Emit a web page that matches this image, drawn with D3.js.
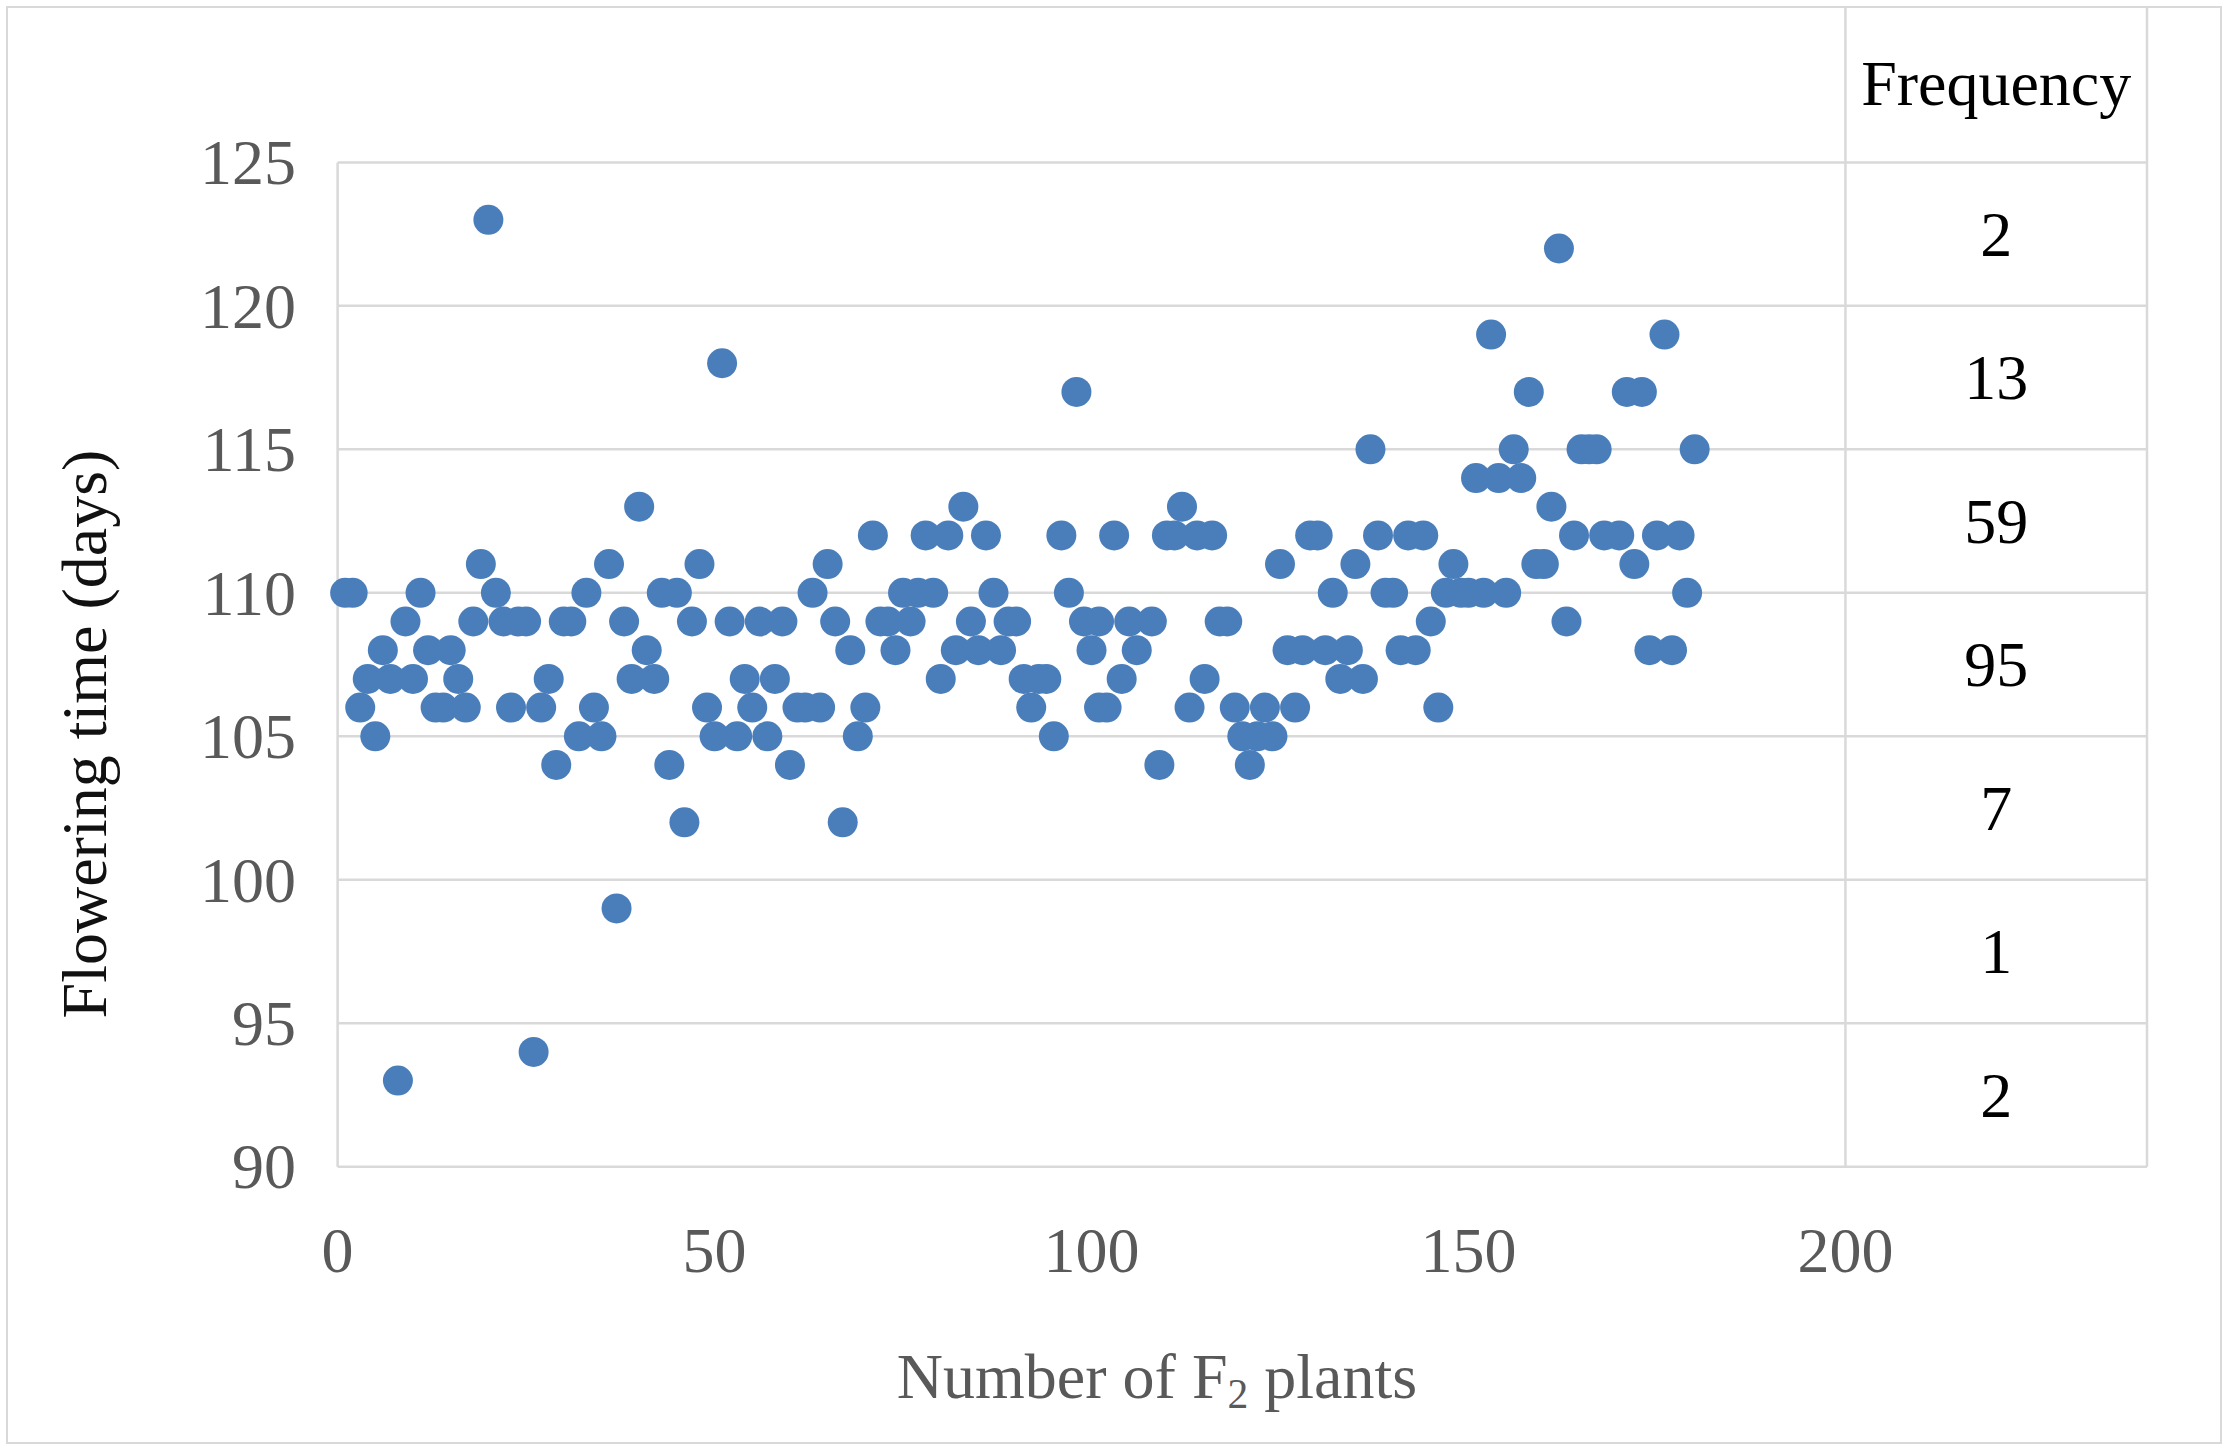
<!DOCTYPE html>
<html>
<head>
<meta charset="utf-8">
<script src="https://cdn.jsdelivr.net/npm/d3@7"></script>
<style>
  html, body { margin: 0; padding: 0; background: #fff; }
  svg { display: block; }
  text { font-family: "Liberation Serif", "Times New Roman", serif; }
</style>
</head>
<body>
<div id="chart"></div>
<script>

// plant number (x) and flowering time in days (y)
var plantNo = [
  1,2,3,4,5,6,7,8,9,10,
  11,12,13,14,15,16,17,18,19,20,
  21,22,23,24,25,26,27,28,29,30,
  31,32,33,34,35,36,37,38,39,40,
  41,42,43,44,45,46,47,48,49,50,
  51,52,53,54,55,56,57,58,59,60,
  61,62,63,64,65,66,67,68,69,70,
  71,72,73,74,75,76,77,78,79,80,
  81,82,83,84,85,86,87,88,89,90,
  91,92,93,94,95,96,97,98,99,100,
  101,101,102,103,104,105,106,
  108,109,110,111,112,113,114,115,116,117,118,
  119,120,121,122,123,124,125,126,127,128,
  129,130,131,132,133,134,135,136,137,138,
  139,140,141,142,143,144,145,146,147,148,
  149,150,151,152,153,154,155,156,157,158,
  159,160,161,162,163,164,165,166,167,168,
  170,171,172,173,174,175,176,177,178,179,180
];

var floweringDays = [
  110,110,106,107,105,108,107,93,109,107,
  110,108,106,106,108,107,106,109,111,123,
  110,109,106,109,109,94,106,107,104,109,
  109,105,110,106,105,111,99,109,107,113,
  108,107,110,104,110,102,109,111,106,105,
  118,109,105,107,106,109,105,107,109,104,
  106,106,110,106,111,109,102,108,105,106,
  112,109,109,108,110,109,110,112,110,107,
  112,108,113,109,108,112,110,108,109,109,
  107,106,107,107,105,112,110,117,109,108,
  109,106,106,112,107,109,108,
  109,104,112,112,113,106,112,107,112,109,109,
  106,105,104,105,106,105,111,108,106,108,
  112,112,108,110,107,108,111,107,115,112,
  110,110,108,112,108,112,109,106,110,111,
  110,110,114,110,119,114,110,115,114,117,
  111,111,113,122,109,112,115,115,115,112,
  112,117,111,117,108,112,119,108,112,110,115
];

// frequency table on the right, one row per 5-day band
var bandLow = [120, 115, 110, 105, 100, 95, 90];
var bandCount = [2, 13, 59, 95, 7, 1, 2];

var xTicks = [0, 50, 100, 150, 200];
var yTicks = [90, 95, 100, 105, 110, 115, 120, 125];

var W = 2228, H = 1450;

var svg = d3.select("#chart")
  .append("svg")
    .attr("width", W)
    .attr("height", H);

// outer frame
svg.append("rect")
    .attr("x", 7).attr("y", 7)
    .attr("width", W - 14).attr("height", H - 14)
    .attr("fill", "#fff")
    .attr("stroke", "#d9d9d9")
    .attr("stroke-width", 2);

var x = d3.scaleLinear()
    .domain([0, 240])
    .range([337.6, 2147]);

var y = d3.scaleLinear()
    .domain([90, 125])
    .range([1166.7, 162.4]);

var gridColor = "#d9d9d9";
var tickColor = "#595959";
var fontSize = 64;

// horizontal grid
svg.append("g")
  .selectAll("line")
  .data(yTicks)
  .enter()
  .append("line")
    .attr("x1", x(0))
    .attr("x2", x(240))
    .attr("y1", function (d) { return y(d); })
    .attr("y2", function (d) { return y(d); })
    .attr("stroke", gridColor)
    .attr("stroke-width", 2.5);

// left axis line
svg.append("line")
    .attr("x1", x(0)).attr("x2", x(0))
    .attr("y1", y(125)).attr("y2", y(90))
    .attr("stroke", gridColor)
    .attr("stroke-width", 2.5);

// table columns
svg.append("g")
  .selectAll("line")
  .data([200, 240])
  .enter()
  .append("line")
    .attr("x1", function (d) { return x(d); })
    .attr("x2", function (d) { return x(d); })
    .attr("y1", 8)
    .attr("y2", y(90))
    .attr("stroke", gridColor)
    .attr("stroke-width", 2.5);

// y tick labels
svg.append("g")
  .selectAll("text")
  .data(yTicks)
  .enter()
  .append("text")
    .attr("x", 296)
    .attr("y", function (d) { return y(d); })
    .attr("dy", "0.34em")
    .attr("text-anchor", "end")
    .attr("fill", tickColor)
    .style("font-size", fontSize + "px")
    .text(function (d) { return d; });

// x tick labels
svg.append("g")
  .selectAll("text")
  .data(xTicks)
  .enter()
  .append("text")
    .attr("x", function (d) { return x(d); })
    .attr("y", 1250)
    .attr("dy", "0.34em")
    .attr("text-anchor", "middle")
    .attr("fill", tickColor)
    .style("font-size", fontSize + "px")
    .text(function (d) { return d; });

// points
var pts = plantNo.map(function (p, i) { return {plant: p, days: floweringDays[i]}; });

svg.append("g")
  .selectAll("circle")
  .data(pts)
  .enter()
  .append("circle")
    .attr("cx", function (d) { return x(d.plant); })
    .attr("cy", function (d) { return y(d.days); })
    .attr("r", 15)
    .style("fill", "#4a7ebb");

// frequency column
svg.append("text")
    .attr("x", x(220))
    .attr("y", 83)
    .attr("dy", "0.34em")
    .attr("text-anchor", "middle")
    .attr("fill", "#000")
    .style("font-size", fontSize + "px")
    .text("Frequency");

svg.append("g")
  .selectAll("text")
  .data(bandLow)
  .enter()
  .append("text")
    .attr("x", x(220))
    .attr("y", function (d) { return y(d + 2.5); })
    .attr("dy", "0.34em")
    .attr("text-anchor", "middle")
    .attr("fill", "#000")
    .style("font-size", fontSize + "px")
    .text(function (d, i) { return bandCount[i]; });

// axis titles
var xt = svg.append("text")
    .attr("x", 1157)
    .attr("y", 1376)
    .attr("dy", "0.34em")
    .attr("text-anchor", "middle")
    .attr("fill", tickColor)
    .style("font-size", fontSize + "px");
xt.append("tspan").text("Number of F");
xt.append("tspan").attr("dy", "0.25em").style("font-size", (fontSize * 0.65) + "px").text("2");
xt.append("tspan").attr("dy", "-0.16em").text(" plants");

svg.append("text")
    .attr("transform", "translate(84,734) rotate(-90)")
    .attr("dy", "0.34em")
    .attr("text-anchor", "middle")
    .attr("fill", "#111")
    .style("font-size", fontSize + "px")
    .text("Flowering time (days)");

</script>
</body>
</html>
